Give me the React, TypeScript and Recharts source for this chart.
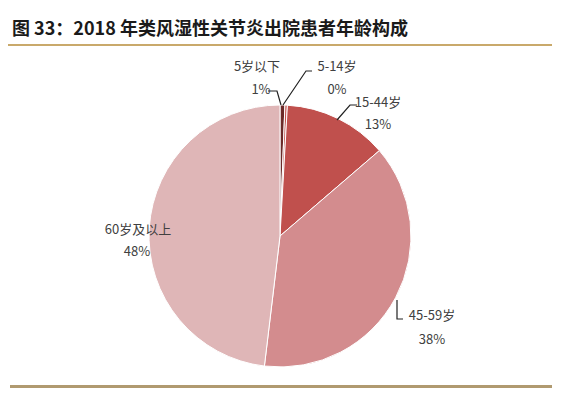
import React from 'react';
import { PieChart, Pie, Cell } from 'recharts';

const title = '图 33：2018 年类风湿性关节炎出院患者年龄构成';

const ageGroups = ['5岁以下', '5-14岁', '15-44岁', '45-59岁', '60岁及以上'];
const shares = [0.6, 0.3, 12.8, 38.2, 48.1];
const sliceColors = ['#6b2a28', '#c0504d', '#c0504d', '#d38c8e', '#dfb6b7'];

const chartData = ageGroups.map((name, i) => ({ name, value: shares[i] }));

// label placement relative to pie centre: name, percent, leader polyline
const labelLayout = [
  { nx: -23, ny: -171, px: -19, py: -148, line: [[-12, -145], [-3, -145], [1, -131]] },
  { nx: 57, ny: -171, px: 57, py: -148, line: [[32, -165], [26, -165], [3, -131]] },
  { nx: 98, ny: -135, px: 98, py: -113, line: [[77, -131], [70, -131], [57, -116]] },
  { nx: 152, ny: 78, px: 152, py: 102, line: [[117, 64], [117, 83], [123, 83]] },
  { nx: -142, ny: -8, px: -143, py: 14, line: [] },
];

const renderLabel = (props: any) => {
  const { cx, cy, index } = props;
  const l = labelLayout[index];
  const pts = l.line.map((p) => `${cx + p[0]},${cy + p[1]}`).join(' ');
  return (
    <g key={`lbl-${index}`}>
      {l.line.length > 0 && <polyline points={pts} fill="none" stroke="#222" strokeWidth={1.2} />}
      <text x={cx + l.nx} y={cy + l.ny} textAnchor="middle" dominantBaseline="central" fontSize={13} fill="#404040">
        {ageGroups[index]}
      </text>
      <text x={cx + l.px} y={cy + l.py} textAnchor="middle" dominantBaseline="central" fontSize={13} fill="#404040">
        {Math.round(shares[index])}%
      </text>
    </g>
  );
};

const App = () => {
  return (
    <div
      style={{
        position: 'absolute',
        left: 0,
        top: 0,
        width: 561,
        height: 396,
        background: '#fff',
        fontFamily: '"Noto Sans CJK SC", "Noto Sans", sans-serif',
      }}
    >
      <div
        style={{
          position: 'absolute',
          left: 12,
          top: 15,
          fontSize: 18,
          fontWeight: 'bold',
          color: '#1a1a1a',
          lineHeight: '24px',
          whiteSpace: 'nowrap',
        }}
      >
        {title}
      </div>
      <div style={{ position: 'absolute', left: 8, top: 44, width: 544, height: 2, background: '#c9a96b' }} />
      <div style={{ position: 'absolute', left: 10, top: 385, width: 542, height: 3, background: '#b09a70' }} />
      <div style={{ position: 'absolute', left: 0, top: 0 }}>
        <PieChart width={561} height={396} margin={{ top: 0, right: 0, bottom: 0, left: 0 }}>
          <Pie
            data={chartData}
            dataKey="value"
            nameKey="name"
            cx={280}
            cy={236}
            outerRadius={131}
            startAngle={90}
            endAngle={-270}
            stroke="#fff"
            strokeWidth={1}
            label={renderLabel}
            labelLine={false}
            isAnimationActive={false}
          >
            {chartData.map((d, i) => (
              <Cell key={d.name} fill={sliceColors[i]} />
            ))}
          </Pie>
        </PieChart>
      </div>
    </div>
  );
};

export default App;
